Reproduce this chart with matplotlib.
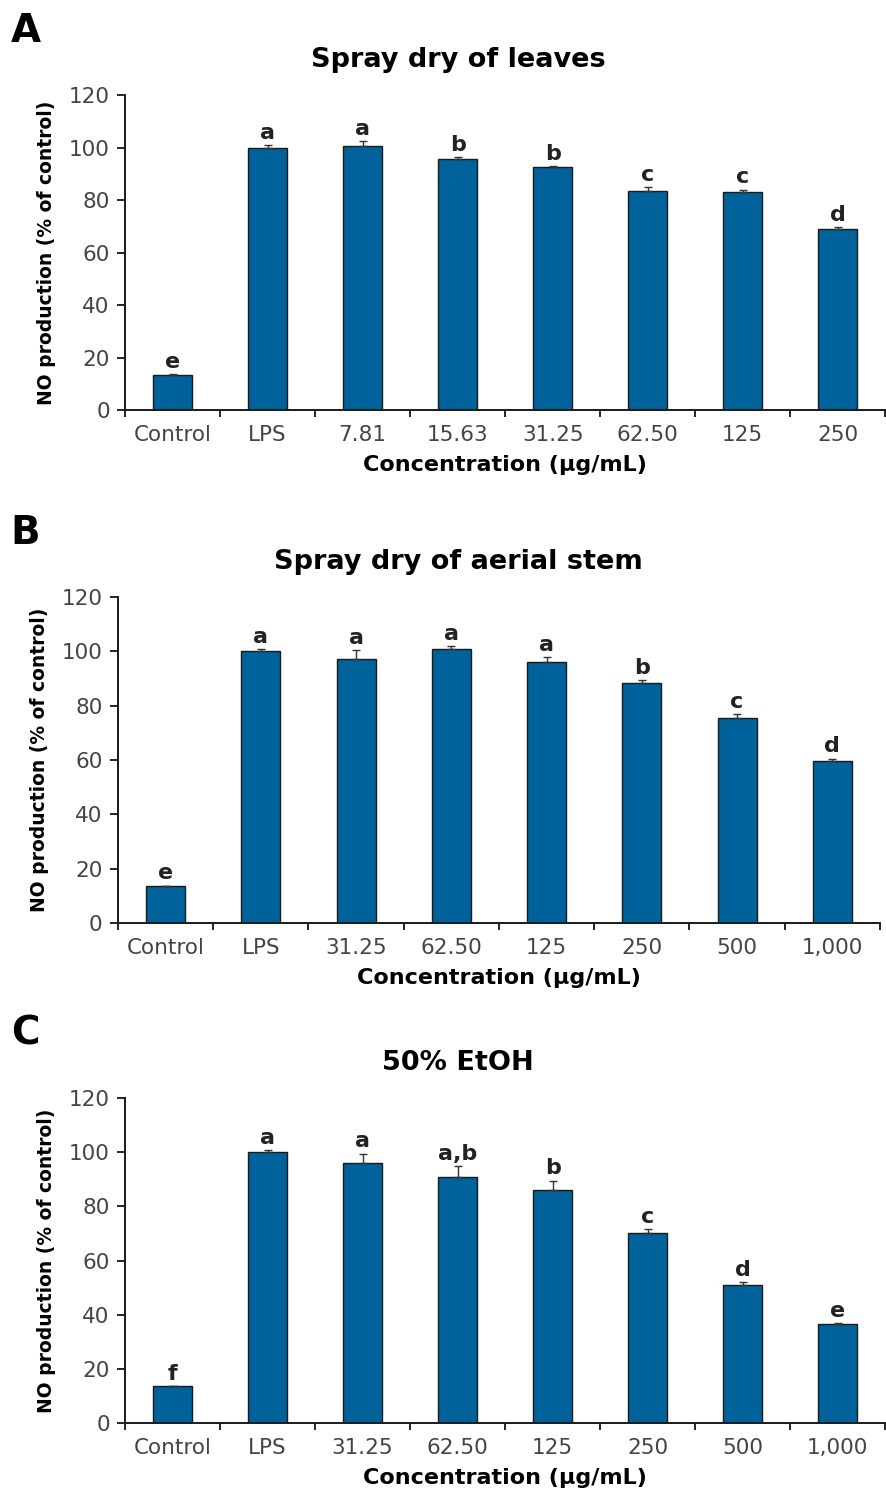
"""
Three-panel bar chart: NO production (% of control) for extracts.
"""
import matplotlib.pyplot as plt
import numpy as np

plt.rcParams['font.family'] = ['DejaVu Sans']

BAR_COLOR = '#00629b'

# Panel A - spray dry of leaves
cats_a = ['Control', 'LPS', '7.81', '15.63', '31.25', '62.50', '125', '250']
vals_a = [13.5, 100, 100.5, 95.5, 92.5, 83.5, 83, 69]
errs_a = [0.3, 1.0, 2.0, 1.0, 0.5, 1.5, 1.0, 0.8]
lets_a = ['e', 'a', 'a', 'b', 'b', 'c', 'c', 'd']

# Panel B - spray dry of aerial stem
cats_b = ['Control', 'LPS', '31.25', '62.50', '125', '250', '500', '1,000']
vals_b = [13.5, 100, 97, 101, 96, 88.5, 75.5, 59.5]
errs_b = [0.3, 0.8, 3.5, 1.0, 2.0, 1.0, 1.5, 1.0]
lets_b = ['e', 'a', 'a', 'a', 'a', 'b', 'c', 'd']

# Panel C - 50% EtOH
cats_c = ['Control', 'LPS', '31.25', '62.50', '125', '250', '500', '1,000']
vals_c = [13.5, 100, 96, 91, 86, 70, 51, 36.5]
errs_c = [0.3, 0.8, 3.5, 4.0, 3.5, 1.5, 1.2, 0.5]
lets_c = ['f', 'a', 'a', 'a,b', 'b', 'c', 'd', 'e']

panels = [
    ('A', 'Spray dry of leaves', cats_a, vals_a, errs_a, lets_a, [0.141, 0.7261, 0.857, 0.2104]),
    ('B', 'Spray dry of aerial stem', cats_b, vals_b, errs_b, lets_b, [0.133, 0.3834, 0.859, 0.2178]),
    ('C', '50% EtOH', cats_c, vals_c, errs_c, lets_c, [0.141, 0.0494, 0.857, 0.2171]),
]

fig = plt.figure(figsize=(8.87, 14.97), dpi=100)

for tag, title, cats, vals, errs, lets, rect in panels:
    ax = fig.add_axes(rect)
    x = np.arange(len(cats))
    ax.bar(x, vals, width=0.41, color=BAR_COLOR, edgecolor='#1a1a1a', linewidth=1.0, zorder=2)
    ax.errorbar(x, vals, yerr=[np.zeros(len(errs)), errs], fmt='none', ecolor='#333333',
                elinewidth=1.0, capsize=3, capthick=1.0, zorder=3)
    for xi, v, e, lab in zip(x, vals, errs, lets):
        ax.text(xi, v + e + 0.8, lab, ha='center', va='bottom', fontsize=16,
                fontweight='bold', color='#222222')

    ax.set_xlim(-0.5, len(cats) - 0.5)
    ax.set_ylim(0, 120)
    ax.set_yticks(range(0, 121, 20))
    ax.set_xticks(x)
    ax.set_xticklabels(cats)
    ax.set_xticks(np.arange(len(cats) + 1) - 0.5, minor=True)
    ax.tick_params(axis='x', which='major', length=0, pad=11, labelsize=15.5, labelcolor='#444444')
    ax.tick_params(axis='x', which='minor', length=5, width=1.2, direction='out')
    ax.tick_params(axis='y', length=6, width=1.2, direction='out', labelsize=15.5,
                   labelcolor='#444444', pad=5)

    for side in ['top', 'right']:
        ax.spines[side].set_visible(False)
    for side in ['left', 'bottom']:
        ax.spines[side].set_linewidth(1.4)
        ax.spines[side].set_color('#1a1a1a')

    ax.set_ylabel('NO production (% of control)', fontsize=13.5, fontweight='bold', labelpad=9)
    ax.set_xlabel('Concentration (µg/mL)', fontsize=16, fontweight='bold', labelpad=7)
    ax.set_title(title, fontsize=19.5, fontweight='bold', pad=20,
                 x=(458 / 887 - rect[0]) / rect[2])

    fig.text(0.012, rect[1] + rect[3] + 0.043, tag, fontsize=28, fontweight='bold',
             ha='left', va='center')

plt.savefig('out.png', dpi=100)
